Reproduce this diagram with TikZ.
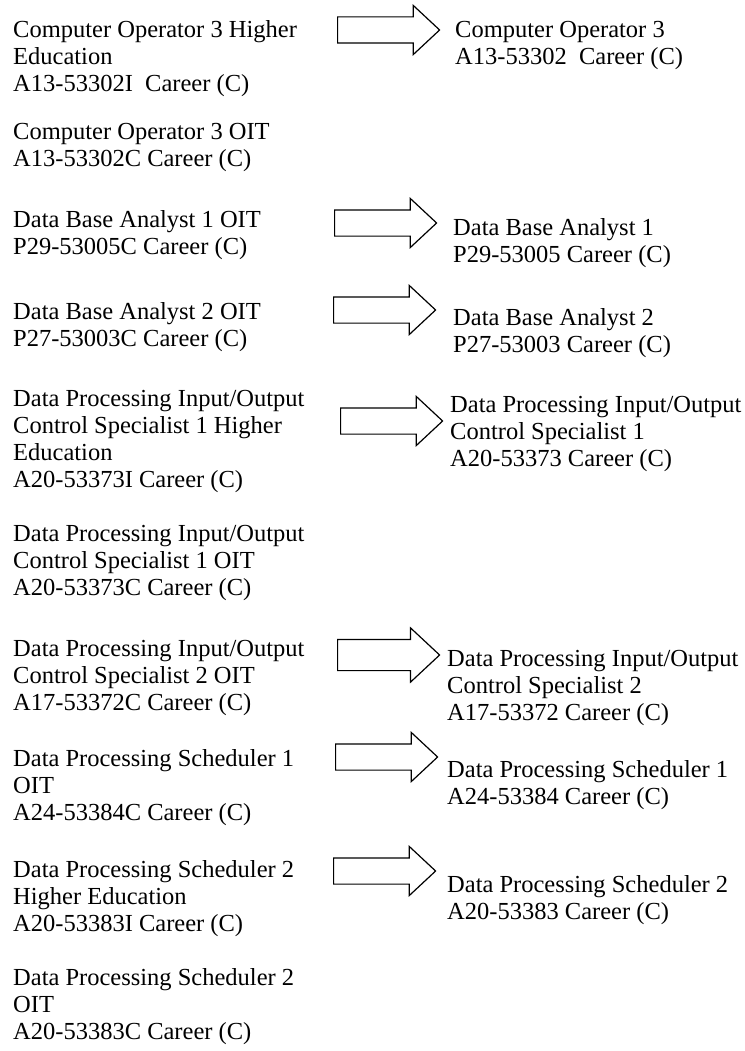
\documentclass[tikz,border=0pt]{standalone}
\usepackage{fontspec}
\setmainfont{Liberation Serif}
\usetikzlibrary{shapes.arrows}
\begin{document}
\begin{tikzpicture}[x=1pt, y=-1pt,
		entry/.style={anchor=north west, inner sep=0pt, align=left, font=\fontsize{24.5pt}{27pt}\selectfont},
		blockarrow/.style={single arrow, draw, line width=1.2pt, anchor=tail, minimum height=102pt, minimum width=0pt,
			single arrow head extend=11.5pt, single arrow tip angle=86, inner xsep=0pt, inner ysep=12.5pt}]
		\useasboundingbox (0, 0) rectangle (744, 1051);
		% old titles
		\node[entry] (l1) at (13, 20) {Computer Operator 3 Higher\\Education\\A13-53302I\ \ Career (C)};
		\node[entry] (l2) at (13, 123) {Computer Operator 3 OIT\\A13-53302C Career (C)};
		\node[entry] (l3) at (13, 210) {Data Base Analyst 1 OIT\\P29-53005C Career (C)};
		\node[entry] (l4) at (13, 302) {Data Base Analyst 2 OIT\\P27-53003C Career (C)};
		\node[entry] (l5) at (13, 390) {Data Processing Input/Output\\Control Specialist 1 Higher\\Education\\A20-53373I Career (C)};
		\node[entry] (l6) at (13, 525) {Data Processing Input/Output\\Control Specialist 1 OIT\\A20-53373C Career (C)};
		\node[entry] (l7) at (13, 640) {Data Processing Input/Output\\Control Specialist 2 OIT\\A17-53372C Career (C)};
		\node[entry] (l8) at (13, 749) {Data Processing Scheduler 1\\OIT\\A24-53384C Career (C)};
		\node[entry] (l9) at (13, 860) {Data Processing Scheduler 2\\Higher Education\\A20-53383I Career (C)};
		\node[entry] (l10) at (13, 968) {Data Processing Scheduler 2\\OIT\\A20-53383C Career (C)};
		% new titles
		\node[entry] (r1) at (455, 21) {Computer Operator 3\\A13-53302\ \ Career (C)};
		\node[entry] (r3) at (453, 218) {Data Base Analyst 1\\P29-53005 Career (C)};
		\node[entry] (r4) at (453, 308) {Data Base Analyst 2\\P27-53003 Career (C)};
		\node[entry] (r5) at (450, 396) {Data Processing Input/Output\\Control Specialist 1\\A20-53373 Career (C)};
		\node[entry] (r7) at (447, 650) {Data Processing Input/Output\\Control Specialist 2\\A17-53372 Career (C)};
		\node[entry] (r8) at (447, 760) {Data Processing Scheduler 1\\A24-53384 Career (C)};
		\node[entry] (r9) at (447, 875) {Data Processing Scheduler 2\\A20-53383 Career (C)};
		% arrows
		\node[blockarrow] (a1) at (337, 30) {};
		\node[blockarrow] (a3) at (334, 223) {};
		\node[blockarrow] (a4) at (333, 310) {};
		\node[blockarrow] (a5) at (340, 421) {};
		\node[blockarrow, inner ysep=15pt] (a7) at (337, 655) {};
		\node[blockarrow] (a8) at (335, 757) {};
		\node[blockarrow] (a9) at (333, 871) {};
	\end{tikzpicture}
\end{document}
